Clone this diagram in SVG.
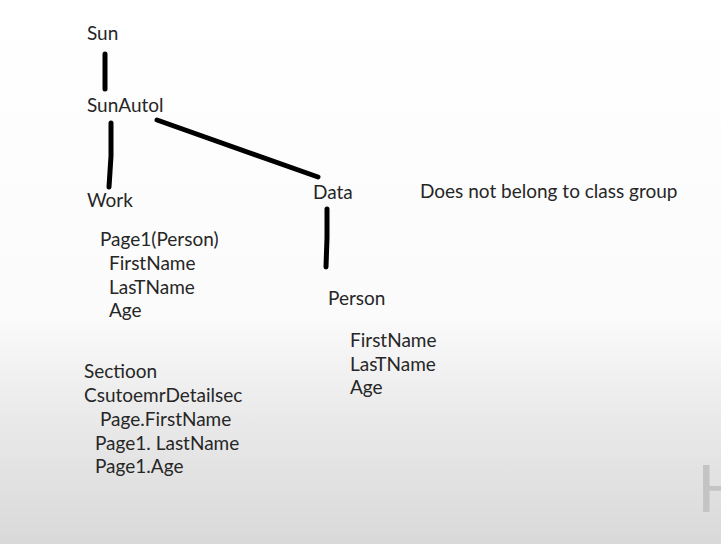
<svg xmlns="http://www.w3.org/2000/svg" width="721" height="544" viewBox="0 0 721 544">
<defs>
<linearGradient id="bg" x1="0" y1="0" x2="0" y2="544" gradientUnits="userSpaceOnUse">
<stop offset="0" stop-color="#ffffff"/>
<stop offset="0.58" stop-color="#fbfbfb"/>
<stop offset="0.75" stop-color="#ebebeb"/>
<stop offset="1" stop-color="#d9d9d9"/>
</linearGradient>
<style>
text{font-family:Lato,"Open Sans","Liberation Sans",sans-serif;font-size:19px;fill:#262626}
.ln{stroke:#000;stroke-width:5;fill:none;stroke-linecap:round;stroke-linejoin:round}
.wm{font-size:66px;fill:#c4c4c4}
</style>
</defs>
<rect width="721" height="544" fill="url(#bg)"/>
<g id="connectors">
<polyline class="ln" points="105,54 105,89"/>
<polyline class="ln" points="111,123 111,156 109,187"/>
<polyline class="ln" points="157,120 318,177"/>
<polyline class="ln" points="327,209 327,238 326,267"/>
</g>
<g id="node-sun"><text x="87" y="40">Sun</text></g>
<g id="node-sunautol"><text x="87" y="112">SunAutol</text></g>
<g id="node-work">
<text x="87" y="207">Work</text>
<text x="100" y="246">Page1(Person)</text>
<text x="109" y="270">FirstName</text>
<text x="109" y="294">LasTName</text>
<text x="109" y="317">Age</text>
</g>
<g id="node-data"><text x="313" y="199">Data</text></g>
<g id="note"><text x="420" y="198">Does not belong to class group</text></g>
<g id="node-person">
<text x="328" y="305">Person</text>
<text x="350" y="347">FirstName</text>
<text x="350" y="371">LasTName</text>
<text x="350" y="394">Age</text>
</g>
<g id="section">
<text x="84" y="378">Sectioon</text>
<text x="84" y="402">CsutoemrDetailsec</text>
<text x="100" y="426">Page.FirstName</text>
<text x="95" y="450">Page1. LastName</text>
<text x="95" y="473">Page1.Age</text>
</g>
<text class="wm" x="697" y="512">H</text>
</svg>
